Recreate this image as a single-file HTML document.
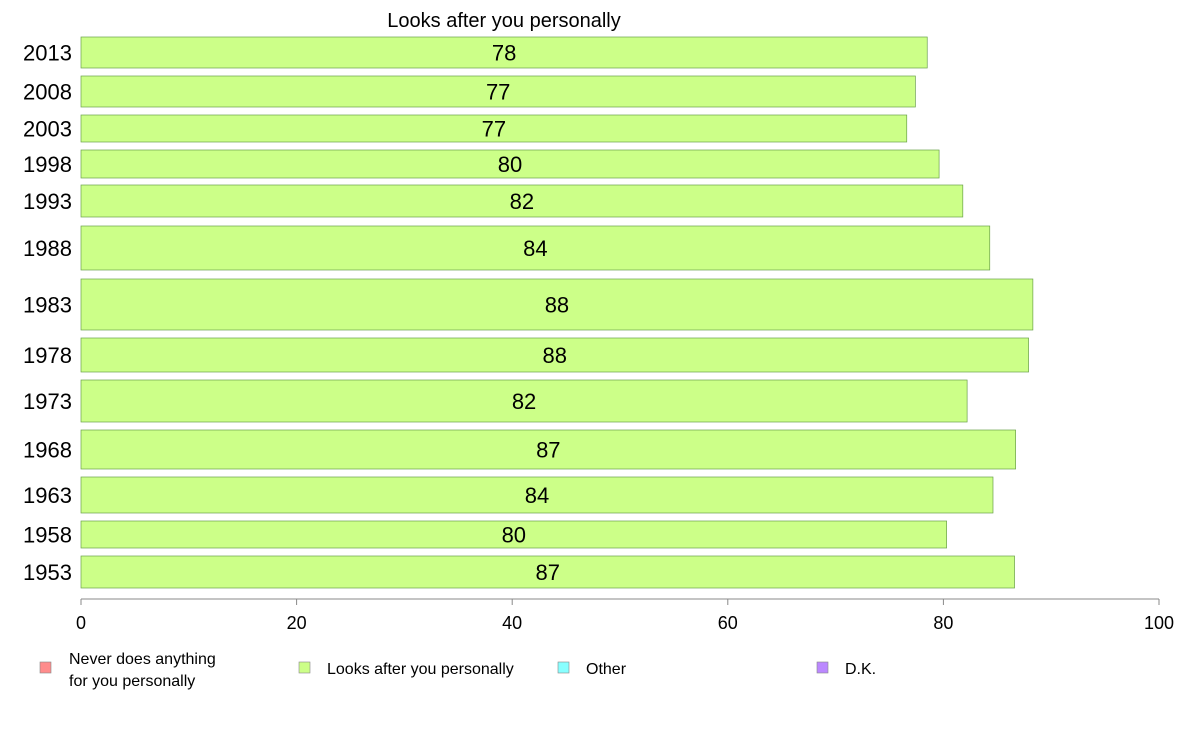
<!DOCTYPE html>
<html><head><meta charset="utf-8"><style>
body{margin:0;background:#fff;font-family:"Liberation Sans",sans-serif;}
</style></head><body>
<svg width="1188" height="736" xmlns="http://www.w3.org/2000/svg" font-family="Liberation Sans, sans-serif">
<text x="504" y="27" font-size="20" text-anchor="middle">Looks after you personally</text>
<g id="bars"></g>
<g id="axis"></g>
<g>
<rect x="40" y="662" width="11" height="11" fill="#ff8c8c" stroke="#888" stroke-width="0.6"/>
<text x="69" y="664" font-size="16">Never does anything</text>
<text x="69" y="686" font-size="16">for you personally</text>
<rect x="299" y="662" width="11" height="11" fill="#ccff88" stroke="#888" stroke-width="0.6"/>
<text x="327" y="674" font-size="16">Looks after you personally</text>
<rect x="558" y="662" width="11" height="11" fill="#88ffff" stroke="#888" stroke-width="0.6"/>
<text x="586" y="674" font-size="16">Other</text>
<rect x="817" y="662" width="11" height="11" fill="#bb88ff" stroke="#888" stroke-width="0.6"/>
<text x="845" y="674" font-size="16">D.K.</text>
</g>
</svg>
<script>
const categories=["2013","2008","2003","1998","1993","1988","1983","1978","1973","1968","1963","1958","1953"];
const values=[78.5,77.4,76.6,79.6,81.8,84.3,88.3,87.9,82.2,86.7,84.6,80.3,86.6];
const labels=["78","77","77","80","82","84","88","88","82","87","84","80","87"];
const tickValues=[0,20,40,60,80,100];
const barTops=[37,76,115,150,185,226,279,338,380,430,477,521,556];
const barBottoms=[68,107,142,178,217,270,330,372,422,469,513,548,588];
const NS="http://www.w3.org/2000/svg";
const x0=81,x1=1159;
function xs(v){return x0+(v/100)*(x1-x0);}
const gb=document.getElementById('bars');
categories.forEach((c,i)=>{
  const t=barTops[i],b=barBottoms[i],cy=(t+b)/2;
  const r=document.createElementNS(NS,'rect');
  r.setAttribute('x',xs(0));r.setAttribute('y',t);
  r.setAttribute('width',xs(values[i])-xs(0));r.setAttribute('height',b-t);
  r.setAttribute('fill','#ccff88');r.setAttribute('stroke','#6aa04a');r.setAttribute('stroke-width','0.7');
  
  
  gb.appendChild(r);
  const yl=document.createElementNS(NS,'text');
  yl.setAttribute('x',72);yl.setAttribute('y',cy+8);yl.setAttribute('font-size','22');yl.setAttribute('text-anchor','end');
  yl.textContent=c;
  
  
  gb.appendChild(yl);
  const vl=document.createElementNS(NS,'text');
  vl.setAttribute('x',(xs(0)+xs(values[i]))/2);vl.setAttribute('y',cy+8);vl.setAttribute('font-size','22');vl.setAttribute('text-anchor','middle');
  vl.textContent=labels[i];
  
  
  gb.appendChild(vl);
});
const ga=document.getElementById('axis');
const ax=document.createElementNS(NS,'line');
ax.setAttribute('x1',x0);ax.setAttribute('x2',x1);ax.setAttribute('y1',599);ax.setAttribute('y2',599);ax.setAttribute('stroke','#888');


ga.appendChild(ax);
tickValues.forEach(v=>{
  const l=document.createElementNS(NS,'line');
  l.setAttribute('x1',xs(v));l.setAttribute('x2',xs(v));l.setAttribute('y1',599);l.setAttribute('y2',605);l.setAttribute('stroke','#888');
  
  
  ga.appendChild(l);
  const t=document.createElementNS(NS,'text');
  t.setAttribute('x',xs(v));t.setAttribute('y',629);t.setAttribute('font-size','18');t.setAttribute('text-anchor','middle');
  t.textContent=v;
  
  
  ga.appendChild(t);
});
</script>
</body></html>
